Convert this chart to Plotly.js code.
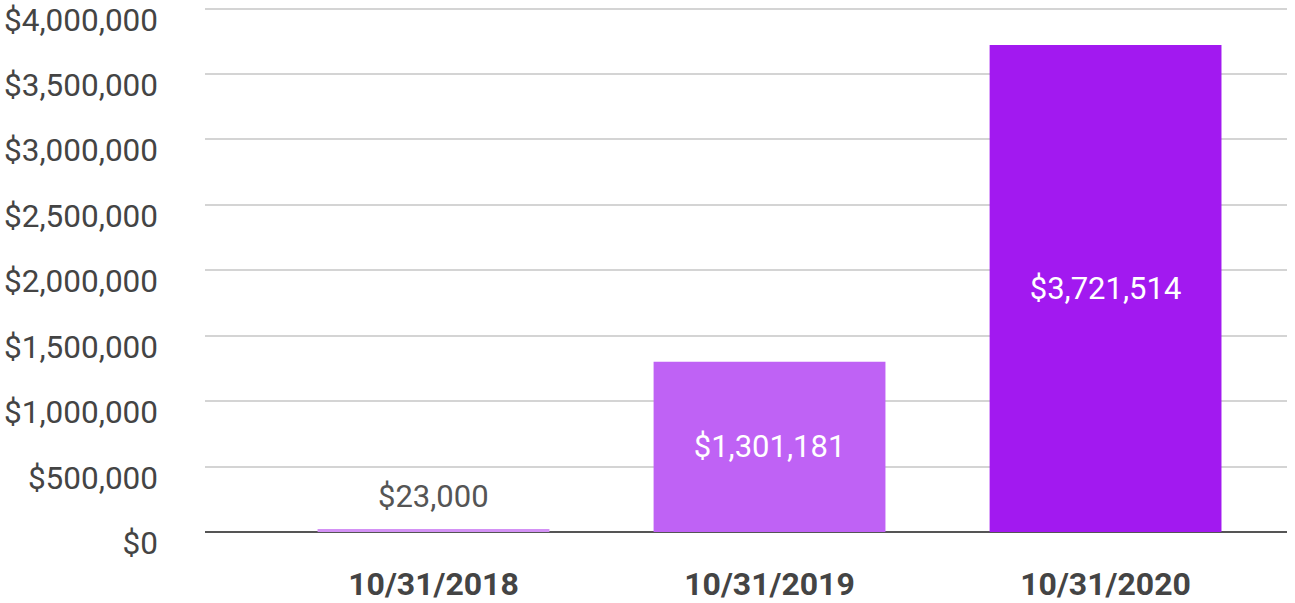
<!DOCTYPE html>
<html>
<head>
<meta charset="utf-8">
<script src="https://cdn.plot.ly/plotly-3.0.1.min.js"></script>
<style>html,body{margin:0;padding:0;background:#fff}#chart{width:1295px;height:603px}</style>
</head>
<body>
<div id="chart"></div>
<script>
const categories = ["10/31/2018", "10/31/2019", "10/31/2020"];
const values = [23000, 1301181, 3721514];
const barColors = ["#D391F5", "#BF62F5", "#A219F0"];
const tickValues = [0, 500000, 1000000, 1500000, 2000000, 2500000, 3000000, 3500000, 4000000];
const tickLabels = ["$0", "$500,000", "$1,000,000", "$1,500,000", "$2,000,000", "$2,500,000", "$3,000,000", "$3,500,000", "$4,000,000"];

const fmt = v => "$" + v.toLocaleString("en-US");
const outside = values.map(v => v < 300000);

const trace = {
  type: "bar",
  x: categories,
  y: values,
  width: 0.69,
  marker: {color: barColors},
  text: values.map((v, i) => outside[i] ? "" : fmt(v)),
  textposition: "inside",
  insidetextanchor: "middle",
  textfont: {family: "Roboto", size: 31, color: "#ffffff"},
  hoverinfo: "none",
  cliponaxis: false
};

const annotations = values.map((v, i) => outside[i] ? {
  x: categories[i], y: v, xref: "x", yref: "y",
  text: fmt(v), showarrow: false, yanchor: "bottom", yshift: 12,
  font: {family: "Roboto", size: 31, color: "#555555"}
} : null).filter(a => a);

const layout = {
  width: 1295, height: 603,
  margin: {l: 205, r: 8, t: 7, b: 71},
  paper_bgcolor: "#ffffff", plot_bgcolor: "#ffffff",
  showlegend: false,
  font: {family: "Roboto", color: "#444444"},
  xaxis: {
    type: "category",
    range: [-0.68, 2.54],
    showgrid: false, zeroline: false, showline: false,
    ticks: "",
    tickfont: {family: "Roboto", size: 32, color: "#444444", weight: "bold"},
    ticklabelstandoff: 30,
    fixedrange: true
  },
  yaxis: {
    range: [0, 4012000],
    tickmode: "array", tickvals: tickValues, ticktext: tickLabels,
    showgrid: true, gridcolor: "#d4d4d4", gridwidth: 2,
    zeroline: true, zerolinecolor: "#555555", zerolinewidth: 2,
    showline: false, ticks: "",
    tickfont: {family: "Roboto", size: 31.5, color: "#444444"},
    ticklabelstandoff: 46,
    ticklabelshift: 11,
    ticklabeloverflow: "allow",
    fixedrange: true
  },
  annotations: annotations
};

Plotly.newPlot("chart", [trace], layout, {displayModeBar: false, staticPlot: true});
</script>
</body>
</html>
